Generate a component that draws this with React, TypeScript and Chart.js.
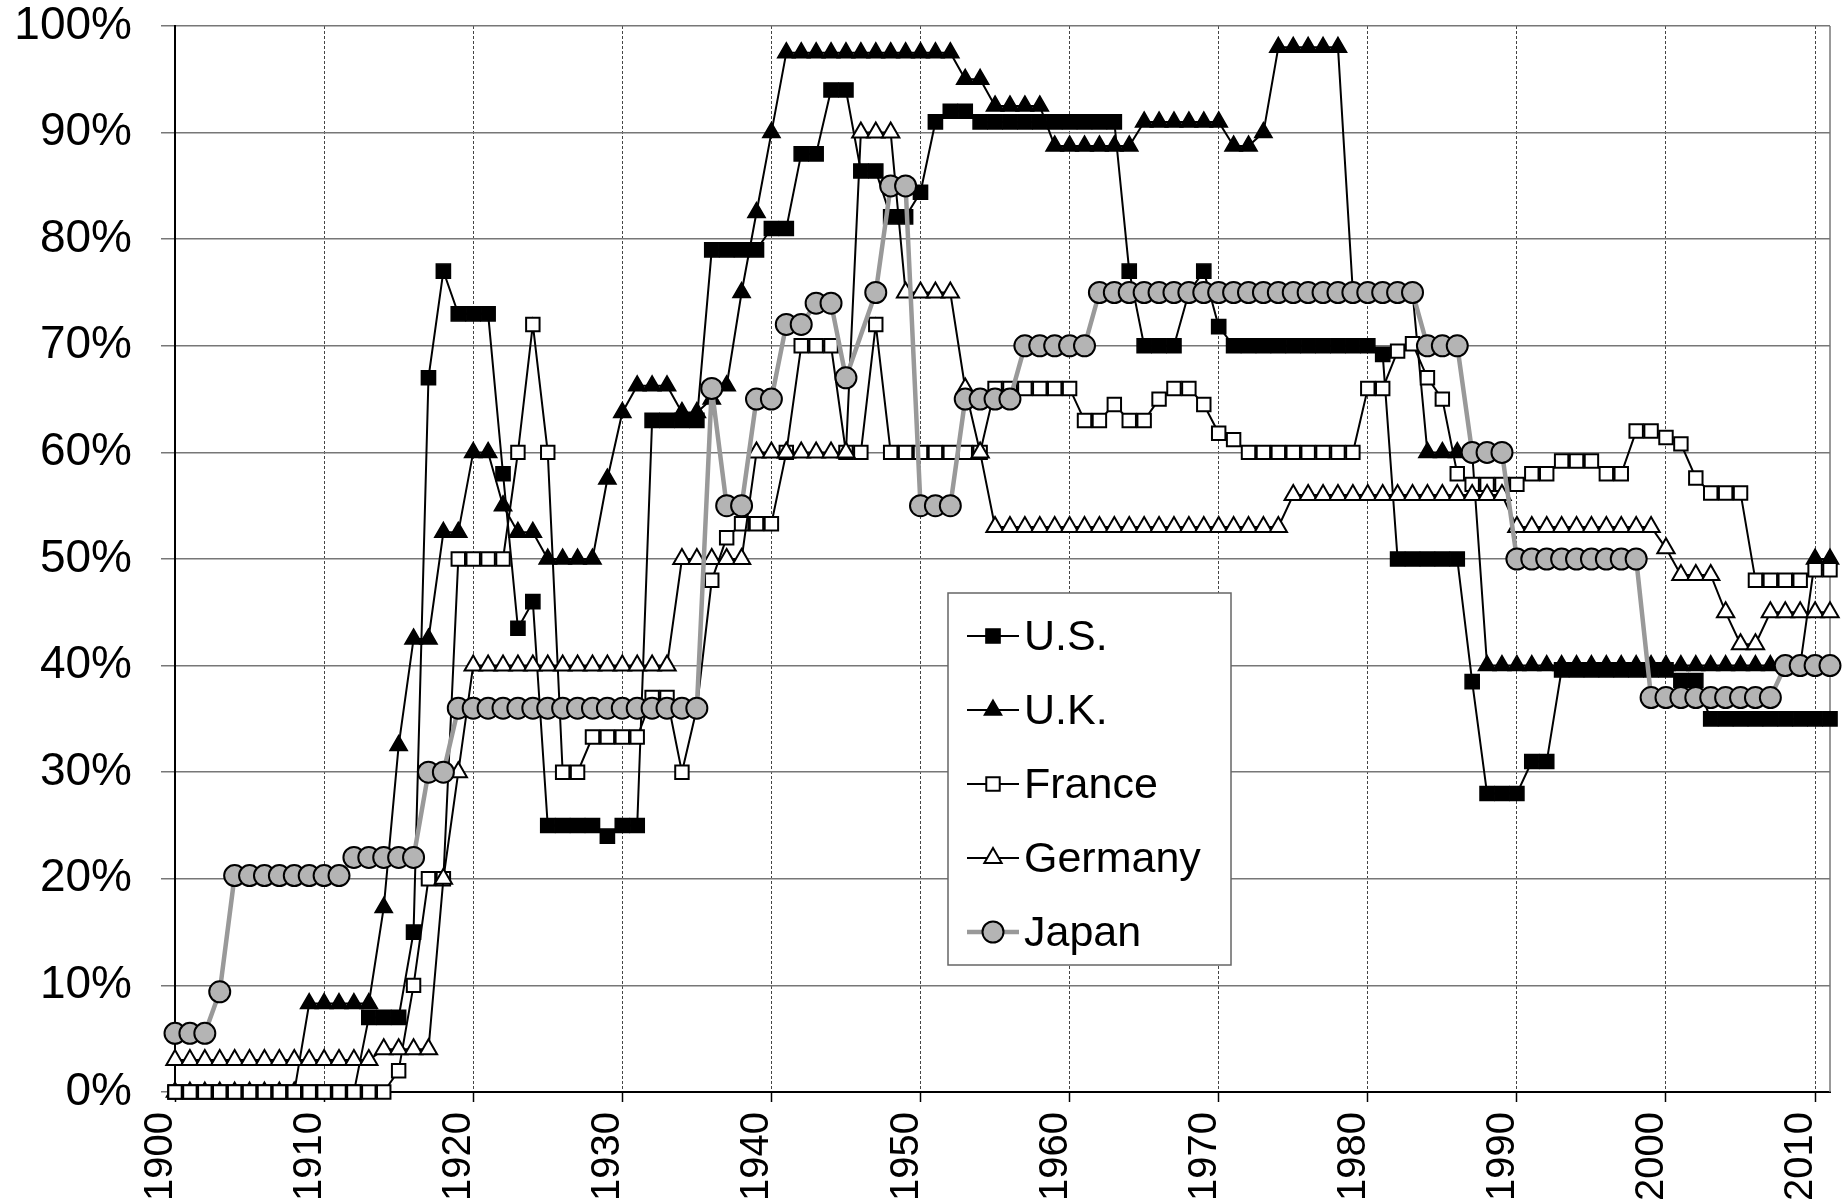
import React, { useEffect, useRef } from "react";
import { Chart, registerables } from "chart.js";

Chart.register(...registerables);

// ---- data (top marginal rates, %, 1900-2011) ----
const years = [
  1900, 1901, 1902, 1903, 1904, 1905, 1906, 1907, 1908, 1909,
  1910, 1911, 1912, 1913, 1914, 1915, 1916, 1917, 1918, 1919,
  1920, 1921, 1922, 1923, 1924, 1925, 1926, 1927, 1928, 1929,
  1930, 1931, 1932, 1933, 1934, 1935, 1936, 1937, 1938, 1939,
  1940, 1941, 1942, 1943, 1944, 1945, 1946, 1947, 1948, 1949,
  1950, 1951, 1952, 1953, 1954, 1955, 1956, 1957, 1958, 1959,
  1960, 1961, 1962, 1963, 1964, 1965, 1966, 1967, 1968, 1969,
  1970, 1971, 1972, 1973, 1974, 1975, 1976, 1977, 1978, 1979,
  1980, 1981, 1982, 1983, 1984, 1985, 1986, 1987, 1988, 1989,
  1990, 1991, 1992, 1993, 1994, 1995, 1996, 1997, 1998, 1999,
  2000, 2001, 2002, 2003, 2004, 2005, 2006, 2007, 2008, 2009,
  2010, 2011,
];

const usRates = [
  0, 0, 0, 0, 0, 0, 0, 0, 0, 0,
  0, 0, 0, 7, 7, 7, 15, 67, 77, 73,
  73, 73, 58, 43.5, 46, 25, 25, 25, 25, 24,
  25, 25, 63, 63, 63, 63, 79, 79, 79, 79,
  81, 81, 88, 88, 94, 94, 86.4, 86.4, 82.1, 82.1,
  84.4, 91, 92, 92, 91, 91, 91, 91, 91, 91,
  91, 91, 91, 91, 77, 70, 70, 70, 75, 77,
  71.8, 70, 70, 70, 70, 70, 70, 70, 70, 70,
  70, 69.2, 50, 50, 50, 50, 50, 38.5, 28, 28,
  28, 31, 31, 39.6, 39.6, 39.6, 39.6, 39.6, 39.6, 39.6,
  39.6, 38.6, 38.6, 35, 35, 35, 35, 35, 35, 35,
  35, 35,
];

const ukRates = [
  0, 0, 0, 0, 0, 0, 0, 0, 0, 8.3,
  8.3, 8.3, 8.3, 8.3, 17.3, 32.5, 42.5, 42.5, 52.5, 52.5,
  60, 60, 55, 52.5, 52.5, 50, 50, 50, 50, 57.5,
  63.75, 66.25, 66.25, 66.25, 63.75, 63.75, 65, 66.25, 75, 82.5,
  90, 97.5, 97.5, 97.5, 97.5, 97.5, 97.5, 97.5, 97.5, 97.5,
  97.5, 97.5, 97.5, 95, 95, 92.5, 92.5, 92.5, 92.5, 88.75,
  88.75, 88.75, 88.75, 88.75, 88.75, 91, 91, 91, 91, 91,
  91, 88.75, 88.75, 90, 98, 98, 98, 98, 98, 75,
  75, 75, 75, 75, 60, 60, 60, 60, 40, 40,
  40, 40, 40, 40, 40, 40, 40, 40, 40, 40,
  40, 40, 40, 40, 40, 40, 40, 40, 40, 40,
  50, 50,
];

const franceRates = [
  0, 0, 0, 0, 0, 0, 0, 0, 0, 0,
  0, 0, 0, 0, 0, 2, 10, 20, 20, 50,
  50, 50, 50, 60, 72, 60, 30, 30, 33.3, 33.3,
  33.3, 33.3, 37, 37, 30, 36, 48, 52, 53.3, 53.3,
  53.3, 60, 70, 70, 70, 60, 60, 72, 60, 60,
  60, 60, 60, 60, 60, 66, 66, 66, 66, 66,
  66, 63, 63, 64.5, 63, 63, 65, 66, 66, 64.5,
  61.8, 61.2, 60, 60, 60, 60, 60, 60, 60, 60,
  66, 66, 69.5, 70.2, 67, 65, 58, 57, 57, 57,
  57, 58, 58, 59.2, 59.2, 59.2, 58, 58, 62, 62,
  61.4, 60.8, 57.6, 56.2, 56.2, 56.2, 48, 48, 48, 48,
  49, 49,
];

const germanyRates = [
  3, 3, 3, 3, 3, 3, 3, 3, 3, 3,
  3, 3, 3, 3, 4, 4, 4, 4, 20, 30,
  40, 40, 40, 40, 40, 40, 40, 40, 40, 40,
  40, 40, 40, 40, 50, 50, 50, 50, 50, 60,
  60, 60, 60, 60, 60, 60, 90, 90, 90, 75,
  75, 75, 75, 66, 60, 53, 53, 53, 53, 53,
  53, 53, 53, 53, 53, 53, 53, 53, 53, 53,
  53, 53, 53, 53, 53, 56, 56, 56, 56, 56,
  56, 56, 56, 56, 56, 56, 56, 56, 56, 56,
  53, 53, 53, 53, 53, 53, 53, 53, 53, 53,
  51, 48.5, 48.5, 48.5, 45, 42, 42, 45, 45, 45,
  45, 45,
];

const japanRates = [
  5.5, 5.5, 5.5, 9.4, 20.3, 20.3, 20.3, 20.3, 20.3, 20.3,
  20.3, 20.3, 22, 22, 22, 22, 22, 30, 30, 36,
  36, 36, 36, 36, 36, 36, 36, 36, 36, 36,
  36, 36, 36, 36, 36, 36, 66, 55, 55, 65,
  65, 72, 72, 74, 74, 67, null, 75, 85, 85,
  55, 55, 55, 65, 65, 65, 65, 70, 70, 70,
  70, 70, 75, 75, 75, 75, 75, 75, 75, 75,
  75, 75, 75, 75, 75, 75, 75, 75, 75, 75,
  75, 75, 75, 75, 70, 70, 70, 60, 60, 60,
  50, 50, 50, 50, 50, 50, 50, 50, 50, 37,
  37, 37, 37, 37, 37, 37, 37, 37, 40, 40,
  40, 40,
];

const seriesNames = ["U.S.", "U.K.", "France", "Germany", "Japan"];

const FONT = "'Liberation Sans', Arial, sans-serif";

function drawMarker(ctx: CanvasRenderingContext2D, style: string, x: number, y: number, r: number, fill: string, stroke: string, bw: number) {
  ctx.beginPath();
  if (style === "rect") {
    const s = Math.SQRT1_2 * r;
    ctx.rect(x - s, y - s, 2 * s, 2 * s);
  } else if (style === "triangle") {
    ctx.moveTo(x, y - r);
    ctx.lineTo(x + r * Math.sin((2 * Math.PI) / 3), y - r * Math.cos((2 * Math.PI) / 3));
    ctx.lineTo(x + r * Math.sin((4 * Math.PI) / 3), y - r * Math.cos((4 * Math.PI) / 3));
    ctx.closePath();
  } else {
    ctx.arc(x, y, r, 0, Math.PI * 2);
  }
  ctx.fillStyle = fill;
  ctx.fill();
  ctx.lineWidth = bw;
  ctx.strokeStyle = stroke;
  ctx.stroke();
}

const framePlugin = {
  id: "frame",
  beforeDatasetsDraw(chart: any) {
    const { ctx, chartArea } = chart;
    ctx.save();
    ctx.strokeStyle = "#777";
    ctx.lineWidth = 1.5;
    ctx.beginPath();
    ctx.moveTo(chartArea.right, chartArea.top);
    ctx.lineTo(chartArea.right, chartArea.bottom);
    ctx.stroke();
    ctx.restore();
  },
};

const legendPlugin = {
  id: "boxLegend",
  afterDraw(chart: any) {
    const { ctx } = chart;
    const bx = 948, by = 593, bw = 283, bh = 372;
    ctx.save();
    ctx.fillStyle = "#fff";
    ctx.fillRect(bx, by, bw, bh);
    ctx.strokeStyle = "#666";
    ctx.lineWidth = 1.5;
    ctx.strokeRect(bx, by, bw, bh);
    chart.data.datasets.forEach((ds: any, i: number) => {
      const cy = by + 43 + i * 74;
      ctx.beginPath();
      ctx.moveTo(967, cy);
      ctx.lineTo(1019, cy);
      ctx.strokeStyle = ds.borderColor;
      ctx.lineWidth = ds.borderWidth;
      ctx.stroke();
      drawMarker(ctx, ds.pointStyle, 993, cy, ds.pointRadius, ds.pointBackgroundColor, ds.pointBorderColor, ds.pointBorderWidth);
      ctx.fillStyle = "#000";
      ctx.font = `43px ${FONT}`;
      ctx.textBaseline = "middle";
      ctx.textAlign = "left";
      ctx.fillText(seriesNames[i], 1024, cy + 2);
    });
    ctx.restore();
  },
};

export default function App() {
  const ref = useRef<HTMLCanvasElement>(null);
  useEffect(() => {
    const canvas = ref.current;
    if (!canvas) return;
    const toPts = (vals: (number | null)[]) => years.map((yr, i) => ({ x: yr, y: vals[i] }));
    const base = {
      tension: 0,
      clip: false as any,
      pointHoverRadius: 0,
    };
    const chart = new Chart(canvas, {
      type: "line",
      data: {
        datasets: [
          {
            ...base,
            label: seriesNames[0],
            data: toPts(usRates),
            borderColor: "#000",
            borderWidth: 2,
            pointStyle: "rect",
            pointRadius: 10,
            pointBackgroundColor: "#000",
            pointBorderColor: "#000",
            pointBorderWidth: 1.5,
            order: 5,
          },
          {
            ...base,
            label: seriesNames[1],
            data: toPts(ukRates),
            borderColor: "#000",
            borderWidth: 2,
            pointStyle: "triangle",
            pointRadius: 10,
            pointBackgroundColor: "#000",
            pointBorderColor: "#000",
            pointBorderWidth: 1.5,
            order: 4,
          },
          {
            ...base,
            label: seriesNames[2],
            data: toPts(franceRates),
            borderColor: "#000",
            borderWidth: 2,
            pointStyle: "rect",
            pointRadius: 9.5,
            pointBackgroundColor: "#fff",
            pointBorderColor: "#000",
            pointBorderWidth: 2,
            order: 3,
          },
          {
            ...base,
            label: seriesNames[3],
            data: toPts(germanyRates),
            borderColor: "#000",
            borderWidth: 2,
            pointStyle: "triangle",
            pointRadius: 10,
            pointBackgroundColor: "#fff",
            pointBorderColor: "#000",
            pointBorderWidth: 2,
            order: 2,
          },
          {
            ...base,
            label: seriesNames[4],
            data: toPts(japanRates),
            borderColor: "#999999",
            borderWidth: 4.5,
            spanGaps: true,
            pointStyle: "circle",
            pointRadius: 10.5,
            pointBackgroundColor: "#b4b4b4",
            pointBorderColor: "#000",
            pointBorderWidth: 2,
            order: 1,
          },
        ] as any,
      },
      options: {
        responsive: false,
        animation: false,
        devicePixelRatio: 1,
        layout: { padding: { top: 26, right: 15, left: 0, bottom: 0 } },
        plugins: {
          legend: { display: false },
          tooltip: { enabled: false },
        },
        events: [],
        scales: {
          x: {
            type: "linear",
            min: 1900,
            max: 2011,
            afterFit: (s: any) => {
              s.height = 108;
              s.paddingLeft = 0;
              s.paddingRight = 0;
            },
            ticks: {
              stepSize: 10,
              includeBounds: false,
              autoSkip: false,
              minRotation: 90,
              maxRotation: 90,
              padding: 10,
              labelOffset: -14,
              color: "#000",
              font: { family: FONT, size: 40 },
              callback: (v: any) => String(v),
            },
            grid: {
              color: "#444",
              lineWidth: 1,
              tickLength: 10,
              tickColor: "#000",
              tickWidth: 1.5,
            },
            border: { display: true, color: "#000", width: 2, dash: [3, 2] },
          },
          y: {
            type: "linear",
            min: 0,
            max: 100,
            afterFit: (s: any) => {
              s.width = 175;
              s.paddingTop = 0;
              s.paddingBottom = 0;
            },
            ticks: {
              stepSize: 10,
              padding: 29,
              color: "#000",
              font: { family: FONT, size: 46 },
              callback: (v: any) => `${v}%`,
            },
            grid: {
              color: "#777",
              lineWidth: 1.5,
              tickLength: 14,
              tickColor: "#777",
            },
            border: { display: true, color: "#000", width: 2 },
          },
        },
      } as any,
      plugins: [framePlugin, legendPlugin],
    });
    return () => chart.destroy();
  }, []);
  return (
    <div style={{ position: "fixed", left: 0, top: 0, width: 1845, height: 1200, background: "#fff" }}>
      <canvas ref={ref} width={1845} height={1200} style={{ display: "block" }} />
    </div>
  );
}
